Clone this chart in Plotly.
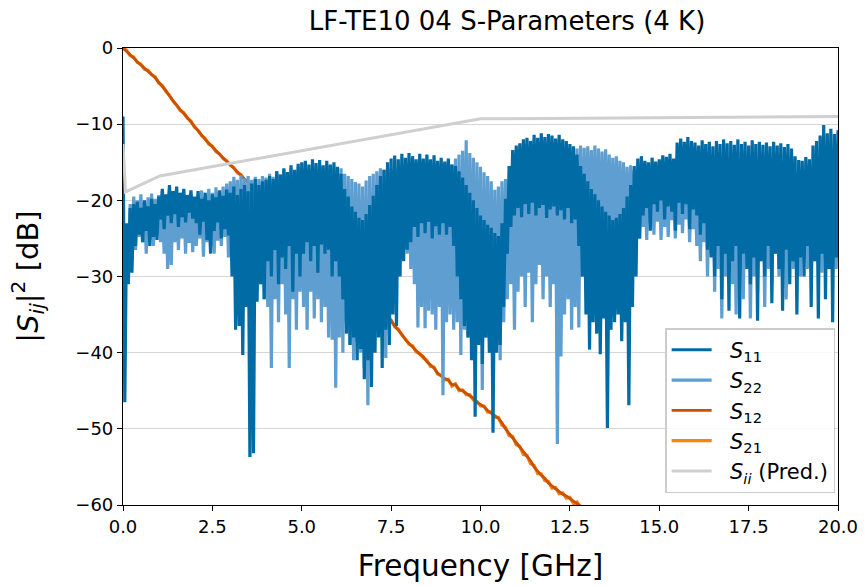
import plotly.graph_objects as go

# ---------------- data ----------------
freq = [round(0.1 * i, 1) for i in range(201)]  # GHz grid, 0.0 .. 20.0

s11_hi = [
    -9, -23, -21, -20.5, -20.2, -21, -20, -20.8, -19.8, -20.5,
    -19.5, -18.5, -19.2, -18, -18.8, -18.2, -19, -18.5, -19.3, -18.7,
    -19.5, -18.8, -19.8, -19, -20, -19.2, -19.6, -18.7, -19.4, -18.6,
    -19, -18.2, -19.3, -18.5, -18, -18.8, -17.8, -17.2, -18, -17.5,
    -17.3, -16.8, -17.2, -16.2, -16.6, -15.8, -16.3, -15.4, -16, -15.2,
    -15, -14.8, -15.3, -14.6, -15.1, -14.7, -15.4, -14.8, -15.3, -15,
    -15.6, -16.5, -18.5, -19.5, -20.8, -21.5, -22.3, -22.6, -21.8, -20.6,
    -19.4, -18, -16.8, -16, -15, -14.5, -14.1, -14.6, -13.9, -14.4,
    -13.8, -14.2, -14.6, -13.9, -14.5, -14, -14.6, -14.1, -14.8, -14.4,
    -14.9, -14.5, -15.3, -15.5, -16.2, -17, -18, -19, -20, -21,
    -22, -22.6, -23.2, -23.6, -24.3, -24.7, -23, -19.8, -15.5, -13.4,
    -12.8, -12.5, -12, -11.8, -12.2, -11.4, -11.8, -11.2, -11.7, -11.3,
    -11.5, -11.9, -11.4, -12, -12.2, -12.6, -12.9, -14, -15.5, -16.5,
    -17.5, -18.5, -19.2, -20, -20.8, -21.5, -22, -22.6, -22.3, -21.8,
    -21, -19.5, -18, -15.5, -14.5, -14.2, -14.8, -15, -14.4, -14.9,
    -14.6, -14.1, -14.3, -13.9, -14.5, -12.4, -11.9, -12.3, -11.7, -12.2,
    -12.4, -12.8, -12.1, -12.6, -12.3, -12.9, -12.2, -12.6, -12.0, -12.5,
    -12.2, -12.7, -12.0, -12.6, -12.3, -12.8, -12.1, -12.6, -12.3, -12.7,
    -12.4, -12.9, -12.3, -12.8, -12.5, -13.0, -12.6, -13.2, -14.2, -14.7,
    -14.8, -14.3, -14.6, -12.8, -12.2, -11.5, -10.1, -11.2, -10.6, -11.3,
    -10.8,
]
s11_lo = [
    -46.5, -31, -29.5, -26, -24.5, -25.5, -24, -26, -24.8, -25.2,
    -22.5, -23.8, -22, -23, -21.8, -23.5, -22.2, -22.9, -21.6, -22.4,
    -23, -24.5, -22.8, -25.2, -27, -24, -22.9, -25, -23.8, -24.6,
    -30, -37, -36.5, -40.3, -34, -53.7, -53.2, -33.3, -31, -33,
    -28, -30, -26.5, -31, -27.5, -29, -26, -32, -27, -30,
    -27, -25.5, -28, -26, -29.5, -25.8, -27, -26.5, -30, -28,
    -30, -33, -37.5, -39, -38, -41, -39.5, -43.5, -41, -44.5,
    -40, -38, -42, -37, -39, -35, -36.5, -30, -28, -26.5,
    -25.5, -23.5, -24.8, -23, -24.3, -22.8, -25, -23.4, -24.5, -23,
    -24.5, -23.5, -26, -30, -33, -36.5, -38, -41, -48.4, -39,
    -41.5, -38, -40, -50.5, -40, -39, -34, -27, -23.5, -22,
    -21, -22.2, -20.5, -21.8, -20.3, -22, -21, -20.6, -22.3, -21.2,
    -20.8, -22, -21.3, -22.5, -21, -23, -22.5, -26, -30, -35,
    -39.6, -36, -37.5, -40.2, -35.5, -49.9, -37, -36, -35, -38.5,
    -36, -46.9, -34, -30, -25, -22, -21, -24, -20.5, -21.5,
    -20, -22.5, -20.8, -21.5, -24, -20.3, -21.8, -20.5, -23.8, -21.2,
    -22, -24.5, -23, -26.5, -27.5, -30, -26, -33, -27, -34.5,
    -28, -26, -35.5, -27, -29, -31, -27.5, -35.8, -28, -30,
    -26, -33.5, -27, -29, -34.5, -26.5, -31, -28, -35, -27.5,
    -30, -26, -34, -28, -35.5, -27, -33, -29, -36, -27.5,
    -31,
]
s22_hi = [
    -26, -24, -20.5, -19.5, -20, -19.2, -20.3, -19.6, -19.1, -19.8,
    -19.3, -18.8, -19.5, -18.6, -19.4, -19, -19.8, -19.2, -20, -19.4,
    -19.8, -19.2, -18.7, -19.5, -18.5, -19, -18.3, -18.8, -18.2, -17.8,
    -17.5, -16.9, -17.3, -16.7, -17.1, -16.8, -17.3, -16.9, -17.2, -16.8,
    -17, -16.5, -16.9, -16.2, -16.6, -16, -16.4, -15.8, -16.2, -15.6,
    -15.8, -15.4, -16, -15.5, -15.9, -15.3, -15.8, -15.4, -16, -15.6,
    -16, -15.8, -16.5, -16.8, -17.2, -17.6, -17.8, -18.2, -17.4, -16.8,
    -16.5, -16.2, -15.8, -16, -15.5, -15.9, -15.4, -15.8, -15.3, -15.6,
    -15.2, -15.7, -15, -15.5, -15.1, -15.6, -15, -15.4, -15.1, -15.5,
    -15.2, -14.8, -15.3, -14.5, -14, -13.5, -12.1, -13.8, -14.4, -15,
    -15.6, -16.3, -16.8, -17.5, -18.6, -18.2, -17.5, -17.2, -17.8, -17,
    -17, -17.5, -16.8, -17.3, -17, -17.6, -16.9, -17.2, -17.5, -17,
    -17.2, -17.6, -17, -16.5, -16, -15, -14, -13.2, -12.8, -13.1,
    -12.9, -13.4, -12.8, -13.2, -13.6, -13.3, -14, -14.4, -14.2, -14.8,
    -15, -15.6, -15.4, -16, -16.4, -16.8, -17, -16.6, -17.2, -16.8,
    -17, -17.5, -17, -17.3, -16.8, -17.4, -17, -17.6, -17.2, -17.5,
    -17.2, -17.8, -17.4, -18, -17.5, -18.2, -17.6, -18, -17.4, -17.9,
    -17.5, -18, -17.3, -17.9, -17.4, -18.1, -17.6, -18, -17.5, -17.9,
    -17.6, -18.1, -17.4, -18, -17.7, -18.2, -17.5, -18, -17.6, -18,
    -17.5, -17.9, -17.3, -17.8, -17.4, -18, -17.5, -17.9, -17.4, -17.8,
    -17.5,
]
s22_lo = [
    -27, -28, -25.5, -26.5, -24.8, -25.5, -27, -25.2, -26, -24.5,
    -25.5, -27, -29, -28.5, -25.5, -26.5, -25, -27, -25.6, -26.8,
    -26, -25, -27.4, -25.5, -26.2, -27, -25.3, -26, -24.8, -27.5,
    -28, -26, -30, -27, -31, -28, -33, -29, -31, -33,
    -34, -42, -33, -36, -31, -35, -42, -33, -37, -32,
    -34, -37, -32, -35.5, -33, -36, -34, -38, -38.3, -44.6,
    -38, -40, -36, -39, -41, -38.5, -40, -42, -46.9, -41,
    -38, -36, -35, -40.7, -32, -28, -26, -27.5, -25.5, -27,
    -29, -31, -36.7, -34, -36.8, -34.5, -35, -37, -34, -45.6,
    -36, -35, -37, -36, -40.3, -37, -38, -36.5, -39, -37.5,
    -44.9, -38, -40, -37, -39, -41, -36, -33, -31, -37,
    -32, -30, -34, -29.5, -36, -31, -28.5, -33, -30, -34,
    -31, -52, -40.5, -35, -33, -37, -34, -36.7, -30, -27,
    -26, -25, -27, -28, -26, -27.5, -25.5, -27, -26, -28,
    -27, -26, -25.5, -24, -25, -23.5, -25.2, -23, -24.5, -22.8,
    -25.2, -23.5, -24.8, -22.6, -25, -23.2, -24.3, -22.5, -25.5, -23.8,
    -26, -28, -25.5, -30, -27, -32, -29, -35.5, -30, -28,
    -31, -35, -29, -33, -27, -35.5, -30, -32, -28, -34,
    -29, -31, -27, -30, -28, -33, -27.5, -29, -28, -30,
    -27, -29, -26.5, -28, -27, -29.5, -26, -28, -27, -29,
    -27,
]

freq_12 = [round(0.1 * i, 1) for i in range(131)]  # 0.0 .. 13.0 GHz
s12 = [
    0, -0.4, -0.9, -1.3, -1.8, -2.2, -2.7, -3.0, -3.4, -3.9,
    -4.5, -5.0, -5.6, -6.3, -6.9, -7.6, -8.1, -8.6, -9.1, -9.7,
    -10.3, -10.9, -11.4, -12.0, -12.5, -13.0, -13.5, -14.0, -14.4, -14.9,
    -15.3, -15.8, -16.3, -16.7, -17.2, -17.7, -18.1, -18.6, -19.0, -19.5,
    -19.9, -20.4, -20.8, -21.3, -21.7, -22.2, -22.6, -23.1, -23.5, -24.0,
    -24.4, -24.9, -25.3, -25.8, -26.2, -26.7, -27.1, -27.6, -28.0, -28.5,
    -28.9, -29.4, -29.8, -30.3, -30.7, -31.2, -31.6, -32.1, -32.5, -33.0,
    -33.4, -33.9, -34.3, -34.8, -35.2, -35.8, -36.5, -37.0, -37.6, -38.3,
    -38.8, -39.2, -39.8, -40.2, -40.5, -41.2, -41.6, -42.0, -42.7, -43.1,
    -43.4, -43.6, -44.2, -44.2, -44.8, -45.0, -45.3, -45.6, -46.0, -46.5,
    -46.8, -47.1, -47.6, -47.9, -48.2, -48.6, -49.2, -50.0, -50.6, -51.2,
    -51.8, -52.5, -53.1, -53.7, -54.2, -55.0, -55.6, -56.1, -56.5, -57.1,
    -57.5, -57.9, -58.2, -58.6, -58.8, -59.2, -59.5, -59.8, -60.1, -60.5,
    -61.0,
]
s21 = [
    0, -0.3, -1.0, -1.2, -1.9, -2.1, -2.8, -2.9, -3.5, -3.8,
    -4.6, -4.9, -5.7, -6.2, -7.0, -7.5, -8.2, -8.5, -9.2, -9.6,
    -10.4, -10.8, -11.5, -11.9, -12.6, -12.9, -13.6, -13.9, -14.5, -14.8,
    -15.4, -15.7, -16.4, -16.6, -17.3, -17.6, -18.2, -18.5, -19.1, -19.4,
    -20.0, -20.3, -20.9, -21.2, -21.8, -22.1, -22.7, -23.0, -23.6, -23.9,
    -24.5, -24.8, -25.4, -25.7, -26.3, -26.6, -27.2, -27.5, -28.1, -28.4,
    -29.0, -29.3, -29.9, -30.2, -30.8, -31.1, -31.7, -32.0, -32.6, -32.9,
    -33.5, -33.8, -34.4, -34.7, -35.3, -35.7, -36.6, -36.9, -37.7, -38.2,
    -38.9, -39.1, -39.9, -40.1, -40.7, -41.0, -41.8, -41.9, -42.8, -43.0,
    -43.6, -43.5, -44.4, -44.1, -45.0, -44.9, -45.5, -45.5, -46.2, -46.4,
    -47.0, -47.0, -47.8, -47.8, -48.5, -48.5, -49.5, -49.8, -50.9, -51.0,
    -52.1, -52.3, -53.4, -53.5, -54.6, -54.8, -55.9, -55.9, -56.8, -56.9,
    -57.8, -57.7, -58.5, -58.4, -59.1, -59.0, -59.8, -59.6, -60.4, -60.3,
    -61.2,
]

freq_pred = [0.0, 0.07, 1.03, 10.0, 20.0]
s_pred = [-12.6, -18.9, -16.8, -9.3, -9.0]

# ---------------- build traces ----------------
def dense(hi, lo):
    xs, ys = [], []
    for f, h, l in zip(freq, hi, lo):
        xs += [f, f + 0.05]
        ys += [h, l]
    return xs, ys

x11, y11 = dense(s11_hi, s11_lo)
x22, y22 = dense(s22_hi, s22_lo)

C11, C22, C12, C21, CP = "#006BA4", "#5F9ED1", "#C85200", "#FF800E", "#CFCFCF"
FONT = "DejaVu Sans"
PAD = "&nbsp;&nbsp;"

fig = go.Figure()
fig.add_trace(go.Scatter(x=freq_12, y=s21, mode="lines", line=dict(color=C21, width=3.2),
                         name=PAD + "<i>S</i><sub>21</sub>", legendrank=4, legendgroup="d"))
fig.add_trace(go.Scatter(x=freq_12, y=s12, mode="lines", line=dict(color=C12, width=2.8),
                         name=PAD + "<i>S</i><sub>12</sub>", legendrank=3, legendgroup="c"))
fig.add_trace(go.Scatter(x=x22, y=y22, mode="lines", line=dict(color=C22, width=3.2),
                         name=PAD + "<i>S</i><sub>22</sub>", legendrank=2, legendgroup="b"))
fig.add_trace(go.Scatter(x=x11, y=y11, mode="lines", line=dict(color=C11, width=3.2),
                         name=PAD + "<i>S</i><sub>11</sub>", legendrank=1, legendgroup="a"))
fig.add_trace(go.Scatter(x=freq_pred, y=s_pred, mode="lines", line=dict(color=CP, width=3),
                         name=PAD + "<i>S<sub>ii</sub></i> (Pred.)", legendrank=5, legendgroup="e"))

fig.update_layout(
    width=865, height=587,
    margin=dict(l=123, r=27, t=48, b=82, autoexpand=False),
    paper_bgcolor="white", plot_bgcolor="white",
    font=dict(family=FONT, color="black", size=18),
    title=dict(text="LF-TE10 04 S-Parameters (4 K)", x=507 / 865, xanchor="center",
               y=1 - 21 / 587, yanchor="middle", font=dict(size=26)),
    showlegend=True,
    legend=dict(x=0.996, y=0.026, xanchor="right", yanchor="bottom",
                bgcolor="rgba(255,255,255,0.85)", bordercolor="#CCCCCC", borderwidth=1.5,
                font=dict(size=21), tracegroupgap=4, traceorder="normal", itemwidth=40),
)
fig.update_xaxes(range=[0, 20], dtick=2.5, tick0=0, tickformat=".1f",
                 showgrid=False, zeroline=False, automargin=False,
                 showline=True, linecolor="black", linewidth=1.2, mirror=True,
                 ticks="outside", ticklen=5, tickcolor="black",
                 title=dict(text="Frequency [GHz]", font=dict(size=29.5), standoff=19),
                 tickfont=dict(size=18))
fig.update_yaxes(range=[-60, 0], dtick=10, tick0=0,
                 showgrid=True, gridcolor="#D6D6D6", gridwidth=1, zeroline=False, automargin=False,
                 showline=True, linecolor="black", linewidth=1.2, mirror=True,
                 ticks="outside", ticklen=5, tickcolor="black",
                 title=dict(text="|<i>S</i><sub><i>ij</i></sub>|<sup>2</sup> [dB]", font=dict(size=29), standoff=28),
                 tickfont=dict(size=18))

fig.write_html("out.html")
